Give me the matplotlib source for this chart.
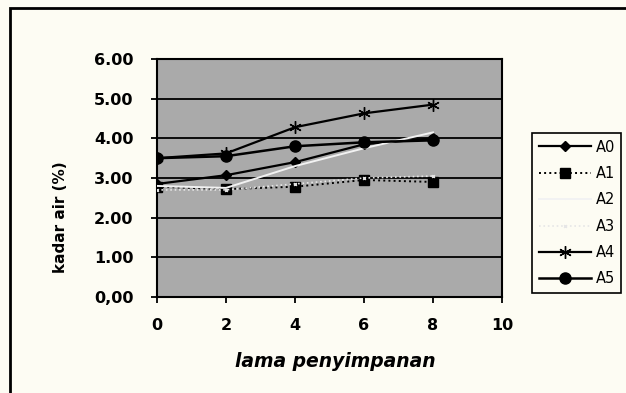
import matplotlib
matplotlib.use("Agg")
import matplotlib.pyplot as plt
from matplotlib.patches import Rectangle

x = [0, 2, 4, 6, 8]
A0 = [2.85, 3.07, 3.40, 3.85, 4.00]
A1 = [2.78, 2.72, 2.78, 2.95, 2.90]
A2 = [2.80, 2.75, 3.30, 3.75, 4.15]
A3 = [2.70, 2.70, 2.85, 3.00, 3.05]
A4 = [3.50, 3.62, 4.28, 4.63, 4.85]
A5 = [3.50, 3.55, 3.80, 3.90, 3.95]
series_names = ["A0", "A1", "A2", "A3", "A4", "A5"]
yticks = [0, 1, 2, 3, 4, 5, 6]
ytick_labels = ["0,00", "1.00", "2.00", "3.00", "4.00", "5.00", "6.00"]
xticks = [0, 2, 4, 6, 8, 10]

plt.rcParams['font.family'] = ['DejaVu Sans']

fig = plt.figure(figsize=(6.26, 3.93), dpi=100)
fig.patch.set_facecolor('#fdfcf3')
W, H = 626, 393
ax = fig.add_axes([157 / W, (H - 297) / H, 345 / W, 238 / H])
ax.set_facecolor('#aaaaaa')

styles = [
    dict(color='black', linestyle='-', marker='D', markersize=5, linewidth=1.6),
    dict(color='black', linestyle=':', marker='s', markersize=7, linewidth=1.4),
    dict(color='#f2f2f2', linestyle='-', marker='^', markersize=0.01, linewidth=1.4),
    dict(color='#e6e6e6', linestyle=':', marker='x', markersize=2, linewidth=1.2),
    dict(color='black', linestyle='-', marker=(6, 2, 0), markersize=9, linewidth=1.6),
    dict(color='black', linestyle='-', marker='o', markersize=8, linewidth=1.8),
]
data = [A0, A1, A2, A3, A4, A5]
for name, ys, st in zip(series_names, data, styles):
    ax.plot(x, ys, label=name, zorder=3, **st)

ax.set_xlim(0, 10)
ax.set_ylim(0, 6)
ax.set_yticks(yticks)
ax.set_yticklabels(ytick_labels)
ax.set_xticks(xticks)
ax.grid(axis='y', color='black', linewidth=1.3)
ax.set_axisbelow(True)
for s in ax.spines.values():
    s.set_linewidth(1.5)
ax.tick_params(direction='out', length=4, width=1.3, labelsize=11.5)
ax.tick_params(axis='y', pad=13)
ax.tick_params(axis='x', pad=11)
for lbl in ax.get_xticklabels() + ax.get_yticklabels():
    lbl.set_fontweight('bold')

ax.set_xlabel('lama penyimpanan', fontsize=13.5, fontweight='bold', style='italic')
ax.xaxis.set_label_coords((335 - 157) / 345, -(352 - 297) / 238)
ax.set_ylabel('kadar air (%)', fontsize=11, fontweight='bold')
ax.yaxis.set_label_coords((68 - 157) / 345, (297 - 217) / 238)

leg = fig.legend(loc='upper left', bbox_to_anchor=(532 / W, (H - 133) / H),
                 frameon=True, fancybox=False, edgecolor='black', facecolor='#fdfcf3',
                 fontsize=10.5, handlelength=3.6, labelspacing=0.78, borderpad=0.45,
                 handletextpad=0.3, borderaxespad=0, framealpha=1)
leg.get_frame().set_linewidth(1.2)

fig.patches.append(Rectangle((10 / W, -0.1), 1.2, (H - 8) / H + 0.1,
                             transform=fig.transFigure, fill=False,
                             edgecolor='black', linewidth=2))

fig.savefig('out.png', dpi=100, facecolor=fig.get_facecolor())
